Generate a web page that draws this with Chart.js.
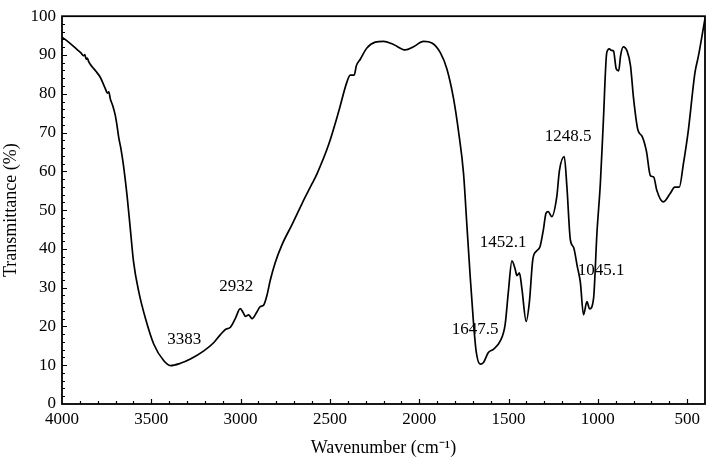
<!DOCTYPE html>
<html>
<head>
<meta charset="utf-8">
<script src="https://cdn.jsdelivr.net/npm/chart.js@4"></script>
<style>
  html, body { margin: 0; padding: 0; background: #fff; }
</style>
</head>
<body>
<canvas id="myChart" width="709" height="460"></canvas>
<script>
// FTIR spectrum (wavenumber in cm-1, transmittance in %)
const wavenumber = [
  4000, 3960, 3930, 3915, 3895, 3880, 3872, 3865, 3858, 3850, 3830, 3810, 3785, 3760, 3745, 3738,
  3729, 3715, 3701, 3692, 3682, 3670, 3657, 3635, 3617, 3599, 3570, 3533, 3486, 3431, 3393, 3337,
  3281, 3206, 3151, 3113, 3085, 3057, 3030, 3002, 2985, 2973, 2955, 2936, 2908, 2890, 2871, 2852,
  2834, 2806, 2768, 2713, 2656, 2600, 2573, 2507, 2451, 2405, 2386, 2364, 2352, 2330, 2293, 2246,
  2200, 2144, 2078, 2032, 1976, 1929, 1882, 1845, 1808, 1780, 1752, 1733, 1714, 1697, 1681, 1659,
  1640, 1613, 1585, 1547, 1519, 1501, 1481, 1463, 1453, 1439, 1425, 1401, 1383, 1364, 1342, 1323,
  1305, 1290, 1278, 1258, 1230, 1215, 1188, 1173, 1154, 1135, 1116, 1098, 1080, 1061, 1046, 1024,
  1005, 986, 970, 950, 936, 924, 912, 897, 883, 873, 858, 836, 817, 800, 776, 752,
  728, 706, 687, 670, 634, 596, 569, 544, 521, 494, 456, 437, 400
];
const transmittance = [
  94.6, 93.2, 92.0, 91.4, 90.6, 89.8, 90.1, 88.9, 89.2, 88.2, 86.9, 85.8, 84.2, 81.6, 80.2, 80.5,
  78.6, 76.8, 74.3, 71.8, 68.6, 65.8, 61.9, 53.4, 44.9, 36.5, 28.9, 22.1, 15.4, 11.2, 9.9, 10.5,
  11.6, 13.7, 15.8, 17.9, 19.2, 19.8, 22.0, 24.6, 23.5, 22.6, 23.0, 22.0, 23.8, 25.1, 25.5, 28.1,
  31.9, 36.5, 41.1, 46.2, 51.7, 56.8, 59.3, 66.9, 75.4, 83.0, 84.8, 84.8, 87.2, 88.9, 91.8, 93.3,
  93.5, 92.7, 91.3, 92.1, 93.5, 93.1, 90.6, 86.4, 78.8, 70.3, 59.5, 46.0, 32.5, 21.5, 13.5, 10.3,
  10.7, 13.3, 14.1, 16.2, 20.5, 28.9, 36.9, 34.8, 33.1, 33.8, 29.7, 21.3, 26.4, 37.3, 39.5, 40.7,
  44.9, 49.2, 49.6, 48.3, 53.4, 60.2, 63.8, 55.9, 42.4, 40.3, 35.7, 31.4, 23.0, 26.4, 24.5, 27.2,
  44.1, 56.8, 72.0, 90.6, 91.6, 91.2, 91.0, 86.4, 85.9, 89.7, 92.1, 91.0, 87.2, 78.8, 70.7, 69.0,
  65.2, 58.9, 58.5, 55.1, 52.1, 54.2, 55.9, 55.9, 61.9, 70.3, 85.5, 89.7, 99.4
];

const xTicks = [4000, 3500, 3000, 2500, 2000, 1500, 1000, 500];
const yTicks = [0, 10, 20, 30, 40, 50, 60, 70, 80, 90, 100];

// peak labels and where they sit (in data units)
const peakText = ["3383", "2932", "1647.5", "1452.1", "1248.5", "1045.1"];
const peakAtX = [3315, 3024, 1687, 1530, 1166, 982];
const peakAtY = [16.7, 30.2, 19.3, 41.6, 68.9, 34.5];

const serif = "'Liberation Serif', 'Times New Roman', serif";

// box, inward ticks and peak labels
const frame = {
  id: "frame",
  afterDraw(chart) {
    const { ctx, chartArea: a, scales: { x, y } } = chart;
    ctx.save();
    ctx.strokeStyle = "#000";
    ctx.lineWidth = 1.2;
    ctx.beginPath();
    for (let v = 500; v < 4000; v += 100) {
      const px = Math.round(x.getPixelForValue(v)) + 0.5;
      const len = v % 500 === 0 ? 5 : 3;
      ctx.moveTo(px, a.bottom);
      ctx.lineTo(px, a.bottom - len);
    }
    for (let v = 2; v < 100; v += 2) {
      const py = Math.round(y.getPixelForValue(v)) + 0.5;
      const len = v % 10 === 0 ? 5 : 3;
      ctx.moveTo(a.left, py);
      ctx.lineTo(a.left + len, py);
    }
    ctx.stroke();

    ctx.lineWidth = 1.8;
    ctx.strokeRect(a.left, a.top, a.right - a.left, a.bottom - a.top);

    ctx.fillStyle = "#000";
    ctx.font = "17px " + serif;
    ctx.textAlign = "center";
    ctx.textBaseline = "middle";
    peakText.forEach((t, i) => {
      ctx.fillText(t, x.getPixelForValue(peakAtX[i]), y.getPixelForValue(peakAtY[i]));
    });
    ctx.restore();
  }
};

const ctx = document.getElementById("myChart").getContext("2d");
new Chart(ctx, {
  type: "line",
  data: {
    datasets: [{
      data: wavenumber.map((w, i) => ({ x: w, y: transmittance[i] })),
      borderColor: "#000",
      borderWidth: 1.7,
      pointRadius: 0,
      cubicInterpolationMode: "monotone",
      fill: false
    }]
  },
  options: {
    responsive: false,
    animation: false,
    layout: { padding: { top: 9, right: 4, left: 0, bottom: 0 } },
    plugins: { legend: { display: false }, tooltip: { enabled: false } },
    scales: {
      x: {
        type: "linear",
        reverse: true,
        min: 400,
        max: 4000,
        afterBuildTicks: s => { s.ticks = xTicks.map(v => ({ value: v })); },
        afterFit: s => { s.height = 56; },
        grid: { display: false, drawTicks: false },
        border: { display: false },
        ticks: {
          color: "#000",
          font: { family: serif, size: 17 },
          padding: 5,
          maxRotation: 0,
          callback: v => String(v)
        },
        title: {
          display: true,
          text: "Wavenumber (cm\u207B\u00B9)",
          color: "#000",
          font: { family: serif, size: 18 },
          padding: { top: 0, bottom: 1 }
        }
      },
      y: {
        min: 0,
        max: 100,
        afterBuildTicks: s => { s.ticks = yTicks.map(v => ({ value: v })); },
        afterFit: s => { s.width = 62; },
        grid: { display: false, drawTicks: false },
        border: { display: false },
        ticks: { color: "#000", font: { family: serif, size: 17 }, padding: 6, callback: v => String(v) },
        title: {
          display: true,
          text: "Transmittance (%)",
          color: "#000",
          font: { family: serif, size: 18 },
          padding: { top: 0, bottom: 0 }
        }
      }
    }
  },
  plugins: [frame]
});
</script>
</body>
</html>
